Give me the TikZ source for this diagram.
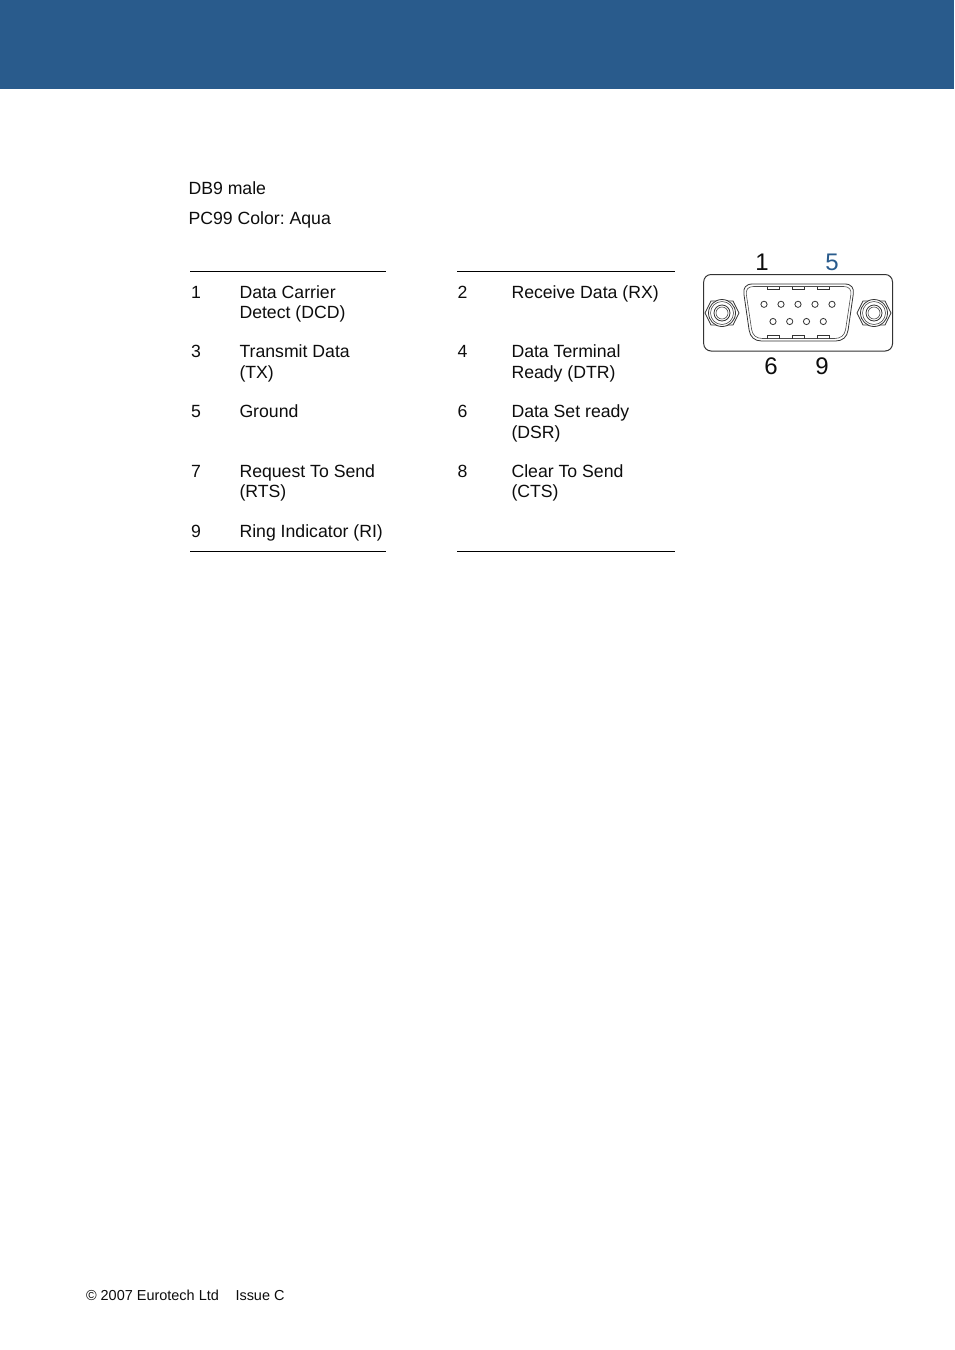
\documentclass[tikz,border=0pt]{standalone}
\usepackage{fontspec}
\setmainfont{Liberation Sans}
\definecolor{band}{HTML}{295B8C}
\definecolor{ink}{HTML}{0D0D0D}
\tikzset{
  txt/.style={anchor=base west,inner sep=0pt,outer sep=0pt,font=\fontsize{13.25}{15}\selectfont\frenchspacing,text=ink},
  foot/.style={anchor=base west,inner sep=0pt,outer sep=0pt,font=\fontsize{10.85}{13}\selectfont\frenchspacing,text=ink},
  pinlab/.style={anchor=base,inner sep=0pt,outer sep=0pt,font=\fontsize{18}{20}\selectfont,text=ink},
  rule/.style={line width=0.75pt,black},
  conn/.style={line width=0.6pt,draw=black!80},
  connthin/.style={line width=0.45pt,draw=black!70},
}
\newcommand{\screw}[1]{%
  \begin{scope}[shift={(#1,313)}]
    \draw[conn,fill=white] (-17,0) -- (-11,-12) -- (11,-12) -- (17,0) -- (11,12) -- (-11,12) -- cycle;
    \draw[conn,fill=white] (0,0) circle (13.5);
    \draw[connthin] (0,0) circle (11.5);
    \draw[conn] (0,0) circle (8);
    \draw[connthin] (0,0) circle (6);
  \end{scope}}
\begin{document}
\begin{tikzpicture}[x=0.75pt,y=-0.75pt]
\useasboundingbox (0,0) rectangle (954,1350);
\fill[white] (0,0) rectangle (954,1350);
\fill[band] (0,0) rectangle (954,89);

\node[txt] (t1) at (188.5,194) {DB9 male};
\node[txt] (t2) at (188.5,224) {PC99 Color: Aqua};

\draw[rule] (190,271.5) -- (386,271.5);
\draw[rule] (457,271.5) -- (675,271.5);
\draw[rule] (190,551.5) -- (386,551.5);
\draw[rule] (457,551.5) -- (675,551.5);

\node[txt] (n1) at (191,298) {1};
\node[txt] (d1a) at (239.5,298) {Data Carrier};
\node[txt] (d1b) at (239.5,318) {Detect (DCD)};
\node[txt] (n3) at (191,357) {3};
\node[txt] (d3a) at (239.5,357) {Transmit Data};
\node[txt] (d3b) at (239.5,378) {(TX)};
\node[txt] (n5) at (191,417) {5};
\node[txt] (d5a) at (239.5,417) {Ground};
\node[txt] (n7) at (191,477) {7};
\node[txt] (d7a) at (239.5,477) {Request To Send};
\node[txt] (d7b) at (239.5,497) {(RTS)};
\node[txt] (n9) at (191,537) {9};
\node[txt] (d9a) at (239.5,537) {Ring Indicator (RI)};

\node[txt] (n2) at (457.5,298) {2};
\node[txt] (d2a) at (511.5,298) {Receive Data (RX)};
\node[txt] (n4) at (457.5,357) {4};
\node[txt] (d4a) at (511.5,357) {Data Terminal};
\node[txt] (d4b) at (511.5,378) {Ready (DTR)};
\node[txt] (n6) at (457.5,417) {6};
\node[txt] (d6a) at (511.5,417) {Data Set ready};
\node[txt] (d6b) at (511.5,438) {(DSR)};
\node[txt] (n8) at (457.5,477) {8};
\node[txt] (d8a) at (511.5,477) {Clear To Send};
\node[txt] (d8b) at (511.5,497) {(CTS)};

% connector
\draw[line width=0.75pt,draw=black!80,rounded corners=5.5] (703.7,274.5) rectangle (892.5,351);
\screw{722}
\screw{874}
\begin{scope}[shift={(0.6,0)}]
\draw[conn] (752,284) -- (844,284) .. controls (851,284) and (853.5,288) .. (852.7,294)
  -- (847.5,330) .. controls (846.5,337) and (842,341) .. (835,341) -- (761,341)
  .. controls (754,341) and (749.5,337) .. (748.5,330) -- (743.3,294)
  .. controls (742.5,288) and (745,284) .. (752,284) -- cycle;
\draw[connthin] (753,286.5) -- (843,286.5) .. controls (849,286.5) and (851,290) .. (850.2,295)
  -- (845,329.5) .. controls (844,335.5) and (840,338.5) .. (834,338.5) -- (762,338.5)
  .. controls (756,338.5) and (752,335.5) .. (751,329.5) -- (745.8,295)
  .. controls (745,290) and (747,286.5) .. (753,286.5) -- cycle;
\foreach \xx in {766.7,791.7,816.7}{
  \draw[conn] (\xx,286.5) -- (\xx,289.8) -- (\xx+12,289.8) -- (\xx+12,286.5);
  \draw[conn] (\xx,338.5) -- (\xx,335.8) -- (\xx+12,335.8) -- (\xx+12,338.5);
}
\end{scope}
\foreach \xx in {764,781,798,815,832}{\draw[conn] (\xx,304.3) circle (3.1);}
\foreach \xx in {773,789.7,806.5,823.3}{\draw[conn] (\xx,321.5) circle (3.1);}

\node[pinlab] (p1) at (762,270.5) {1};
\node[pinlab,text=band] (p5) at (832,270.5) {5};
\node[pinlab] (p6) at (771,374) {6};
\node[pinlab] (p9) at (822,374) {9};

\node[foot] (f1) at (86,1300) {© 2007 Eurotech Ltd};
\node[foot] (f2) at (235.5,1300) {Issue C};
\end{tikzpicture}
\end{document}
